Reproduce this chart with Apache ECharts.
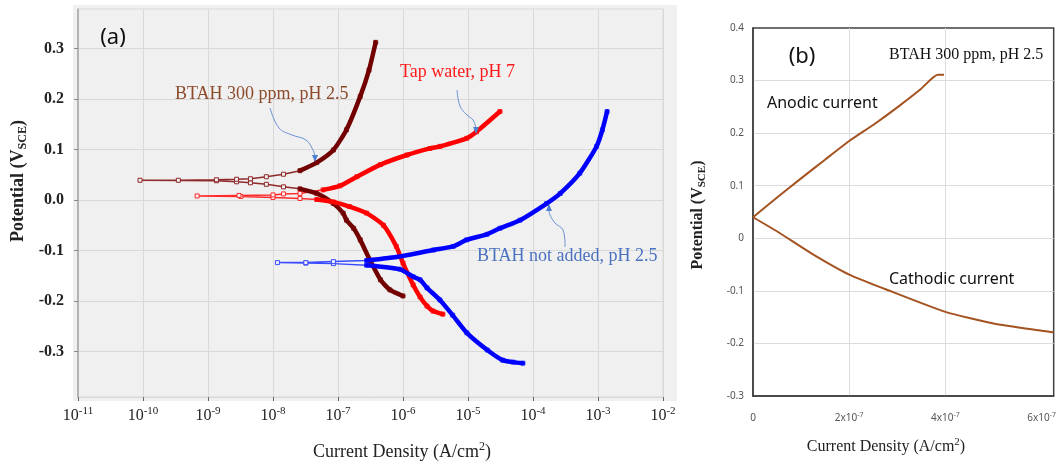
<!DOCTYPE html>
<html>
<head>
<meta charset="utf-8">
<script src="https://cdn.jsdelivr.net/npm/echarts@6/dist/echarts.min.js"></script>
<style>
  html, body { margin: 0; padding: 0; background: #fff; }
  #main { width: 1059px; height: 467px; }
</style>
</head>
<body>
<div id="main"></div>
<script>
// (a) polarization curves, [current density A/cm2, potential V], in sweep order (cathodic end -> Ecorr -> anodic end)
var btah300Data = [
  [1.0e-6, -0.190], [6.3e-7, -0.178], [4.5e-7, -0.158], [3.1e-7, -0.119], [2.2e-7, -0.079],
  [1.74e-7, -0.056], [1.35e-7, -0.040], [1.2e-7, -0.026], [8.5e-8, -0.007], [4.7e-8, 0.013],
  [2.6e-8, 0.022], [1.45e-8, 0.026], [7.9e-9, 0.031], [4.5e-9, 0.034], [2.75e-9, 0.036],
  [1.35e-9, 0.038], [9.0e-11, 0.039],
  [3.5e-10, 0.039], [1.35e-9, 0.040], [2.75e-9, 0.041], [4.5e-9, 0.042], [7.9e-9, 0.046],
  [1.45e-8, 0.051], [2.6e-8, 0.058], [4.7e-8, 0.074], [8.5e-8, 0.099], [1.35e-7, 0.139],
  [2.2e-7, 0.205], [3.0e-7, 0.257], [3.8e-7, 0.312]
];
var tapWaterData = [
  [4.1e-6, -0.226], [2.9e-6, -0.220], [2.34e-6, -0.210], [1.83e-6, -0.192], [1.43e-6, -0.168],
  [1.0e-6, -0.125], [7.9e-7, -0.092], [5.0e-7, -0.050], [2.75e-7, -0.026], [1.5e-7, -0.013],
  [8.5e-8, -0.004], [4.7e-8, 0.001], [2.6e-8, 0.003], [1.0e-8, 0.005], [3.2e-9, 0.007],
  [6.8e-10, 0.008],
  [3.0e-9, 0.009], [1.0e-8, 0.010], [1.45e-8, 0.012], [2.6e-8, 0.013], [5.9e-8, 0.020],
  [1.07e-7, 0.028], [1.95e-7, 0.046], [4.5e-7, 0.070], [1.15e-6, 0.089], [2.6e-6, 0.102],
  [3.7e-6, 0.106], [9.5e-6, 0.122], [1.35e-5, 0.135], [3.1e-5, 0.175]
];
var noBtahData = [
  [7.0e-5, -0.323], [5.0e-5, -0.321], [3.4e-5, -0.317], [1.98e-5, -0.297], [9.6e-6, -0.263],
  [5.8e-6, -0.228], [3.7e-6, -0.198], [2.34e-6, -0.174], [1.83e-6, -0.158], [1.43e-6, -0.152],
  [8.9e-7, -0.137], [2.75e-7, -0.129], [8.5e-8, -0.126], [3.2e-8, -0.125], [1.17e-8, -0.124],
  [3.2e-8, -0.124], [8.5e-8, -0.122], [2.75e-7, -0.120], [8.9e-7, -0.112], [2.95e-6, -0.099],
  [5.9e-6, -0.092], [9.5e-6, -0.079], [1.95e-5, -0.068], [3.1e-5, -0.056], [6.3e-5, -0.040],
  [1.62e-4, -0.007], [2.63e-4, 0.013], [5.25e-4, 0.053], [9.5e-4, 0.106], [1.17e-3, 0.139],
  [1.38e-3, 0.175]
];

// (b) BTAH 300 ppm on linear current axis
var anodicB = [
  [0, 0.040], [0.52e-7, 0.079], [1.0e-7, 0.114], [1.49e-7, 0.149], [2.0e-7, 0.185],
  [2.52e-7, 0.217], [3.0e-7, 0.249], [3.49e-7, 0.284], [3.84e-7, 0.311], [3.97e-7, 0.311]
];
var cathodicB = [
  [0, 0.040], [0.52e-7, 0.012], [1.22e-7, -0.029], [2.0e-7, -0.069], [2.73e-7, -0.096],
  [4.0e-7, -0.140], [5.0e-7, -0.162], [6.0e-7, -0.176], [6.25e-7, -0.179]
];

var potentialTicksA = [-0.3, -0.2, -0.1, 0, 0.1, 0.2, 0.3];
var currentTicksB = [0, 2e-7, 4e-7, 6e-7];

var SERIF = '"Liberation Serif", "Times New Roman", serif';
var SANS = '"Noto Sans", "Open Sans", sans-serif';

var chart = echarts.init(document.getElementById('main'));

// thin line with square markers everywhere, thick line where the points are dense
function curveSeries(name, data, color, markColor, thickFrom) {
  var out = [{
    name: name, type: 'line', xAxisIndex: 0, yAxisIndex: 0, data: data,
    symbol: 'rect', symbolSize: 4, showSymbol: true,
    lineStyle: { color: markColor, width: 1.5 },
    itemStyle: { color: '#f0f0f0', borderColor: markColor, borderWidth: 1 },
    z: 2, silent: true
  }];
  var seg = [];
  function flush() {
    if (seg.length > 1) {
      out.push({
        name: name, type: 'line', xAxisIndex: 0, yAxisIndex: 0, data: seg,
        showSymbol: false, symbol: 'none', smooth: 0.2,
        lineStyle: { color: color, width: 4.5, join: 'round', cap: 'round' }, z: 3, silent: true
      });
    }
    seg = [];
  }
  data.forEach(function (p) {
    if (p[0] >= thickFrom) seg.push(p); else flush();
  });
  flush();
  return out;
}

var series = []
  .concat(curveSeries('BTAH 300 ppm, pH 2.5', btah300Data, '#720000', '#8e2a2a', 2e-8))
  .concat(curveSeries('Tap water, pH 7', tapWaterData, '#ff0000', '#ff2a2a', 3e-8))
  .concat(curveSeries('BTAH not added, pH 2.5', noBtahData, '#0000ff', '#3a4cff', 2.5e-7));
[anodicB, cathodicB].forEach(function (branch) {
  series.push({
    name: 'BTAH 300 ppm, pH 2.5 (b)', type: 'line', xAxisIndex: 1, yAxisIndex: 1,
    data: branch, showSymbol: false, symbol: 'none', smooth: 0.2,
    lineStyle: { color: '#a4521f', width: 2, join: 'round' }, silent: true
  });
});

function arrow(points, head) {
  return [
    { type: 'polyline', shape: { points: points, smooth: 0.4 },
      style: { stroke: '#6a93d4', lineWidth: 1, fill: null }, z: 20 },
    { type: 'polygon', shape: { points: head }, style: { fill: '#4f7fcf' }, z: 20 }
  ];
}

var option = {
  animation: false,
  backgroundColor: '#fff',
  grid: [
    { left: 78, top: 9, width: 585, height: 388, show: true,
      backgroundColor: 'transparent', borderColor: '#d9d9d9', borderWidth: 1 },
    { left: 753, top: 28, width: 302, height: 368, show: true,
      backgroundColor: '#fff', borderColor: '#404040', borderWidth: 1.5 }
  ],
  xAxis: [
    {
      type: 'log', logBase: 10, gridIndex: 0, min: 1e-11, max: 1e-2,
      axisLine: { show: true, onZero: false, lineStyle: { color: '#d9d9d9' } },
      axisTick: { show: true, length: 4, lineStyle: { color: '#666' } },
      axisLabel: {
        margin: 9, fontFamily: SERIF, fontSize: 16, color: '#222', lineHeight: 20,
        formatter: function (v) {
          var e = Math.round(Math.log(v) / Math.LN10);
          return '10{s|' + e + '}';
        },
        rich: { s: { fontFamily: SERIF, fontSize: 11, color: '#222', verticalAlign: 'top', lineHeight: 13 } }
      },
      splitLine: { show: true, lineStyle: { color: '#d9d9d9', width: 1 } }
    },
    {
      type: 'value', gridIndex: 1, min: 0, max: 6.25e-7, interval: 2e-7,
      axisLine: { show: true, onZero: false, lineStyle: { color: '#404040', width: 1.5 } },
      axisTick: { show: false, customValues: currentTicksB },
      axisLabel: {
        customValues: currentTicksB, margin: 15, fontFamily: SANS, fontSize: 10,
        color: '#555', lineHeight: 14,
        formatter: function (v) {
          if (v === 0) return '0';
          return Math.round(v / 1e-7) + 'x10{s|-7}';
        },
        rich: { s: { fontFamily: SANS, fontSize: 7, color: '#555', verticalAlign: 'top', lineHeight: 10 } }
      },
      splitLine: { show: true, showMinLine: false, showMaxLine: false, lineStyle: { color: '#dcdcdc' } }
    }
  ],
  yAxis: [
    {
      type: 'value', gridIndex: 0, min: -0.39, max: 0.378,
      axisLine: { show: true, onZero: false, lineStyle: { color: '#a6a6a6', width: 1.5 } },
      axisTick: { show: true, length: 4, customValues: potentialTicksA, lineStyle: { color: '#888' } },
      axisLabel: {
        customValues: potentialTicksA, margin: 14, fontFamily: SERIF, fontSize: 16,
        fontWeight: 'bold', color: '#222',
        formatter: function (v) { return v.toFixed(1); }
      },
      splitLine: { show: true, lineStyle: { color: '#d9d9d9' } }
    },
    {
      type: 'value', gridIndex: 1, min: -0.3, max: 0.4, interval: 0.1,
      axisLine: { show: true, onZero: false, lineStyle: { color: '#404040', width: 1.5 } },
      axisTick: { show: false },
      axisLabel: {
        margin: 9, fontFamily: SANS, fontSize: 10, color: '#555',
        formatter: function (v) { return Math.abs(v) < 1e-9 ? '0' : v.toFixed(1); }
      },
      splitLine: { show: true, showMinLine: false, showMaxLine: false, lineStyle: { color: '#dcdcdc' } }
    }
  ],
  series: series,
  graphic: [
    { type: 'rect', shape: { x: 73, y: 5, width: 604, height: 396 }, style: { fill: '#f0f0f0' }, z: -100, silent: true },
    { type: 'text', x: 113, y: 38, z: 30,
      style: { text: '(a)', font: '22px ' + SANS, fill: '#111', align: 'center', verticalAlign: 'middle' } },
    { type: 'text', x: 802, y: 57, z: 30,
      style: { text: '(b)', font: '22px ' + SANS, fill: '#111', align: 'center', verticalAlign: 'middle' } },
    { type: 'text', x: 175, y: 94, z: 30,
      style: { text: 'BTAH 300 ppm, pH 2.5', font: '18px ' + SERIF, fill: '#8c4a2b', align: 'left', verticalAlign: 'middle' } },
    { type: 'text', x: 400, y: 72, z: 30,
      style: { text: 'Tap water, pH 7', font: '18px ' + SERIF, fill: '#ff1a1a', align: 'left', verticalAlign: 'middle' } },
    { type: 'text', x: 477, y: 256, z: 30,
      style: { text: 'BTAH not added, pH 2.5', font: '18px ' + SERIF, fill: '#4a72c0', align: 'left', verticalAlign: 'middle' } },
    { type: 'text', x: 889, y: 55, z: 30,
      style: { text: 'BTAH 300 ppm, pH 2.5', font: '16px ' + SERIF, fill: '#111', align: 'left', verticalAlign: 'middle' } },
    { type: 'text', x: 767, y: 103, z: 30,
      style: { text: 'Anodic current', font: '16px ' + SANS, fill: '#111', align: 'left', verticalAlign: 'middle' } },
    { type: 'text', x: 889, y: 279, z: 30,
      style: { text: 'Cathodic current', font: '16px ' + SANS, fill: '#111', align: 'left', verticalAlign: 'middle' } },
    { type: 'text', x: 18, y: 181, rotation: Math.PI / 2, z: 30,
      style: { text: 'Potential (V{sub|SCE})', font: 'bold 18px ' + SERIF, fill: '#222',
        align: 'center', verticalAlign: 'middle', lineHeight: 22,
        rich: { sub: { fontFamily: SERIF, fontWeight: 'bold', fontSize: 12, fill: '#222', verticalAlign: 'bottom', lineHeight: 14 } } } },
    { type: 'text', x: 698, y: 215, rotation: Math.PI / 2, z: 30,
      style: { text: 'Potential (V{sub|SCE})', font: 'bold 16px ' + SERIF, fill: '#222',
        align: 'center', verticalAlign: 'middle', lineHeight: 20,
        rich: { sub: { fontFamily: SERIF, fontWeight: 'bold', fontSize: 11, fill: '#222', verticalAlign: 'bottom', lineHeight: 13 } } } },
    { type: 'text', x: 402, y: 452, z: 30,
      style: { text: 'Current Density (A/cm{sup|2})', font: '18px ' + SERIF, fill: '#222',
        align: 'center', verticalAlign: 'middle', lineHeight: 22,
        rich: { sup: { fontFamily: SERIF, fontSize: 12, fill: '#222', verticalAlign: 'top', lineHeight: 14 } } } },
    { type: 'text', x: 886, y: 447, z: 30,
      style: { text: 'Current Density (A/cm{sup|2})', font: '16px ' + SERIF, fill: '#222',
        align: 'center', verticalAlign: 'middle', lineHeight: 20,
        rich: { sup: { fontFamily: SERIF, fontSize: 11, fill: '#222', verticalAlign: 'top', lineHeight: 13 } } } }
  ].concat(arrow([[270, 108], [279, 128], [292, 135], [306, 140], [313, 150], [315, 156]],
                 [[312, 155], [318, 155], [315, 162]]))
   .concat(arrow([[457, 90], [460, 106], [467, 115], [473, 120], [476, 128]],
                 [[473, 127], [479, 127], [476, 134]]))
   .concat(arrow([[565, 247], [563, 230], [555, 223], [550, 215], [549, 211]],
                 [[546, 211], [552, 211], [549, 204]]))
};

chart.setOption(option);
</script>
</body>
</html>
